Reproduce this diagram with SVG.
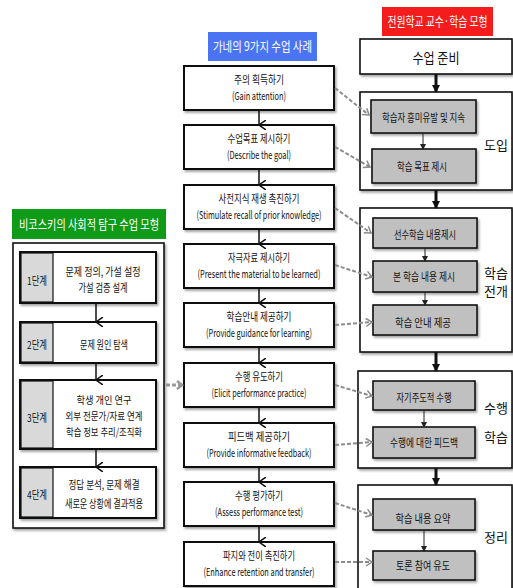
<svg xmlns="http://www.w3.org/2000/svg" width="513" height="588" viewBox="0 0 513 588">
<style>
text{font-family:"Noto Sans CJK KR","Liberation Sans",sans-serif;font-size:11px;fill:#111;text-anchor:middle;}
.t{font-size:13px;fill:#fff;}
.sec{font-size:13px;}
.big{font-size:14px;}
.s3{font-size:10.5px;}
.box{fill:#fff;stroke:#111;stroke-width:2;filter:url(#sh);}
.obox{fill:#fff;stroke:#111;stroke-width:1.6;filter:url(#sh);}
.gbox{fill:#c0c0c0;stroke:#111;stroke-width:1.6;filter:url(#sh);}
.lab{fill:#d9d9d9;stroke:#111;stroke-width:1.2;}
.dash{fill:none;stroke:#8c8c8c;stroke-width:2;stroke-dasharray:4 2;marker-end:url(#oa);}
.ar{fill:none;stroke:#111;stroke-width:1.5;marker-end:url(#va);}
.thick{fill:none;stroke:#111;stroke-width:3;marker-end:url(#fa);}
.thin{fill:none;stroke:#222;stroke-width:1;marker-end:url(#sa);}
</style>
<defs>
<filter id="sh" x="-10%" y="-10%" width="130%" height="140%"><feDropShadow dx="1.5" dy="2" stdDeviation="1" flood-color="#000" flood-opacity="0.35"/></filter>
<marker id="oa" markerWidth="8" markerHeight="10" refX="7" refY="5" orient="auto" markerUnits="userSpaceOnUse"><path d="M1,1 L7,5 L1,9" fill="none" stroke="#8c8c8c" stroke-width="1.5"/></marker>
<marker id="va" markerWidth="10" markerHeight="8" refX="5" refY="7" orient="auto" markerUnits="userSpaceOnUse" viewBox="0 0 10 8"><path d="M0,0 L5,7 L10,0" fill="none" stroke="#111" stroke-width="1.5"/></marker>
<marker id="fa" markerWidth="8" markerHeight="10" refX="7" refY="4" orient="auto" markerUnits="userSpaceOnUse" viewBox="0 0 8 8"><path d="M0,0 L8,4 L0,8 Z" fill="#111"/></marker>
<marker id="sa" markerWidth="6" markerHeight="6" refX="5" refY="3" orient="auto" markerUnits="userSpaceOnUse"><path d="M0,0 L6,3 L0,6 Z" fill="#222"/></marker>
<marker id="ga" markerWidth="8" markerHeight="10" refX="6" refY="5" orient="auto" markerUnits="userSpaceOnUse"><path d="M1,1 L6,5 L1,9" fill="none" stroke="#999" stroke-width="2.5"/></marker>
</defs>

<!-- Titles -->
<g id="title-left"><rect x="12" y="209" width="154" height="30" fill="#0f9a17"/><text class="t" x="89" y="229" textLength="140" lengthAdjust="spacingAndGlyphs">비코스키의 사회적 탐구 수업 모형</text></g>
<g id="title-mid"><rect x="208" y="32" width="109" height="29" fill="#4a74f2"/><text class="t" x="262.5" y="51" textLength="99" lengthAdjust="spacingAndGlyphs">가네의 9가지 수업 사례</text></g>
<g id="title-right"><rect x="382" y="7" width="111" height="29" fill="#f41c1c"/><text class="t" x="437.5" y="26" textLength="100" lengthAdjust="spacingAndGlyphs">전원학교 교수·학습 모형</text></g>

<!-- Left model -->
<g id="left-model">
<rect x="13" y="243" width="151" height="285" fill="#fff" stroke="#111" stroke-width="1.6" filter="url(#sh)"/>
</g>
<g id="stage1"><rect class="box" x="20" y="252" width="136" height="51"/><rect class="lab" x="21" y="253" width="32" height="49"/><text x="37" y="285" textLength="20" lengthAdjust="spacingAndGlyphs">1단계</text><text x="103" y="276" textLength="75" lengthAdjust="spacingAndGlyphs">문제 정의, 가설 설정</text><text x="103" y="292" textLength="49" lengthAdjust="spacingAndGlyphs">가설 검증 설계</text></g>
<g id="stage2"><rect class="box" x="20" y="322" width="136" height="41"/><rect class="lab" x="21" y="323" width="32" height="39"/><text x="37" y="349" textLength="20" lengthAdjust="spacingAndGlyphs">2단계</text><text x="104" y="349" textLength="48" lengthAdjust="spacingAndGlyphs">문제 원인 탐색</text></g>
<g id="stage3"><rect class="box" x="20" y="380" width="136" height="69"/><rect class="lab" x="21" y="381" width="32" height="67"/><text x="37" y="422" textLength="20" lengthAdjust="spacingAndGlyphs">3단계</text><text class="s3" x="104" y="404" textLength="55" lengthAdjust="spacingAndGlyphs">학생 개인 연구</text><text class="s3" x="104" y="420" textLength="77" lengthAdjust="spacingAndGlyphs">외부 전문가/자료 연계</text><text class="s3" x="104" y="436" textLength="76" lengthAdjust="spacingAndGlyphs">학습 정보 추리/조직화</text></g>
<g id="stage4"><rect class="box" x="20" y="467" width="136" height="51"/><rect class="lab" x="21" y="468" width="32" height="49"/><text x="37" y="499" textLength="20" lengthAdjust="spacingAndGlyphs">4단계</text><text x="104" y="489" textLength="71" lengthAdjust="spacingAndGlyphs">정답 분석, 문제 해결</text><text x="104" y="508" textLength="78" lengthAdjust="spacingAndGlyphs">새로운 상황에 결과적용</text></g>

<!-- Gagne events -->
<g id="g1"><rect class="box" x="184" y="66" width="150" height="44"/><text x="259" y="84" textLength="50" lengthAdjust="spacingAndGlyphs">주의 획득하기</text><text x="259" y="100" textLength="54" lengthAdjust="spacingAndGlyphs">(Gain attention)</text></g>
<g id="g2"><rect class="box" x="184" y="125" width="150" height="44"/><text x="259" y="143" textLength="63" lengthAdjust="spacingAndGlyphs">수업목표 제시하기</text><text x="259" y="159" textLength="64" lengthAdjust="spacingAndGlyphs">(Describe the goal)</text></g>
<g id="g3"><rect class="box" x="184" y="185" width="150" height="44"/><text x="259" y="203" textLength="81" lengthAdjust="spacingAndGlyphs">사전지식 재생 촉진하기</text><text x="259" y="219" textLength="125" lengthAdjust="spacingAndGlyphs">(Stimulate recall of prior knowledge)</text></g>
<g id="g4"><rect class="box" x="184" y="244" width="150" height="44"/><text x="259" y="262" textLength="62" lengthAdjust="spacingAndGlyphs">자극자료 제시하기</text><text x="259" y="278" textLength="123" lengthAdjust="spacingAndGlyphs">(Present the material to be learned)</text></g>
<g id="g5"><rect class="box" x="184" y="303" width="150" height="44"/><text x="259" y="321" textLength="65" lengthAdjust="spacingAndGlyphs">학습안내 제공하기</text><text x="259" y="337" textLength="106" lengthAdjust="spacingAndGlyphs">(Provide guidance for learning)</text></g>
<g id="g6"><rect class="box" x="184" y="363" width="150" height="44"/><text x="259" y="381" textLength="48" lengthAdjust="spacingAndGlyphs">수행 유도하기</text><text x="259" y="397" textLength="95" lengthAdjust="spacingAndGlyphs">(Elicit performance practice)</text></g>
<g id="g7"><rect class="box" x="184" y="423" width="150" height="44"/><text x="259" y="441" textLength="62" lengthAdjust="spacingAndGlyphs">피드백 제공하기</text><text x="259" y="457" textLength="105" lengthAdjust="spacingAndGlyphs">(Provide informative feedback)</text></g>
<g id="g8"><rect class="box" x="184" y="482" width="150" height="44"/><text x="259" y="500" textLength="48" lengthAdjust="spacingAndGlyphs">수행 평가하기</text><text x="259" y="516" textLength="88" lengthAdjust="spacingAndGlyphs">(Assess performance test)</text></g>
<g id="g9"><rect class="box" x="184" y="542" width="150" height="44"/><text x="259" y="560" textLength="72" lengthAdjust="spacingAndGlyphs">파지와 전이 촉진하기</text><text x="259" y="576" textLength="111" lengthAdjust="spacingAndGlyphs">(Enhance retention and transfer)</text></g>

<!-- Right model -->
<g id="prep"><rect class="obox" x="360" y="39" width="152" height="35"/><text class="big" x="436" y="63" textLength="47" lengthAdjust="spacingAndGlyphs">수업 준비</text></g>
<g id="intro"><rect class="obox" x="360" y="92" width="152" height="98"/><text class="sec" x="496" y="150">도입</text></g>
<g id="r1"><rect class="gbox" x="371" y="100" width="105" height="33"/><text x="423.5" y="122" textLength="83" lengthAdjust="spacingAndGlyphs">학습자 흥미유발 및 지속</text></g>
<g id="r2"><rect class="gbox" x="372" y="149" width="104" height="34"/><text x="422" y="171" textLength="50" lengthAdjust="spacingAndGlyphs">학습 목표 제시</text></g>
<g id="develop"><rect class="obox" x="360" y="208" width="152" height="144"/><text class="sec" x="496" y="278">학습</text><text class="sec" x="496" y="296">전개</text></g>
<g id="r3"><rect class="gbox" x="373" y="218" width="104" height="30"/><text x="425" y="239" textLength="62" lengthAdjust="spacingAndGlyphs">선수학습 내용제시</text></g>
<g id="r4"><rect class="gbox" x="373" y="261" width="104" height="31"/><text x="424" y="281" textLength="62" lengthAdjust="spacingAndGlyphs">본 학습 내용 제시</text></g>
<g id="r5"><rect class="gbox" x="373" y="305" width="104" height="30"/><text x="423" y="327" textLength="56" lengthAdjust="spacingAndGlyphs">학습 안내 제공</text></g>
<g id="practice"><rect class="obox" x="358" y="371" width="154" height="97"/><text class="sec" x="496" y="413">수행</text><text class="sec" x="496" y="442">학습</text></g>
<g id="r6"><rect class="gbox" x="373" y="381" width="102" height="29"/><text x="424" y="402" textLength="55" lengthAdjust="spacingAndGlyphs">자기주도적 수행</text></g>
<g id="r7"><rect class="gbox" x="373" y="427" width="102" height="31"/><text x="424" y="447" textLength="68" lengthAdjust="spacingAndGlyphs">수행에 대한 피드백</text></g>
<g id="wrap"><rect class="obox" x="358" y="485" width="154" height="110"/><text class="sec" x="496" y="542">정리</text></g>
<g id="r8"><rect class="gbox" x="373" y="499" width="102" height="31"/><text x="423" y="523" textLength="55" lengthAdjust="spacingAndGlyphs">학습 내용 요약</text></g>
<g id="r9"><rect class="gbox" x="373" y="551" width="102" height="29"/><text x="423" y="570" textLength="54" lengthAdjust="spacingAndGlyphs">토론 참여 유도</text></g>

<!-- Connectors -->
<g id="connectors">
<path class="ar" d="M96,303 V322"/>
<path class="ar" d="M96,363 V380"/>
<path class="ar" d="M96,449 V467"/>
<path d="M166,385 H182" fill="none" stroke="#999" stroke-width="3" stroke-dasharray="4 2" marker-end="url(#ga)"/>
<path class="ar" d="M259,110 V125"/>
<path class="ar" d="M259,169 V185"/>
<path class="ar" d="M259,229 V244"/>
<path class="ar" d="M259,288 V303"/>
<path class="ar" d="M259,347 V363"/>
<path class="ar" d="M259,407 V423"/>
<path class="ar" d="M259,467 V482"/>
<path class="ar" d="M259,526 V542"/>
<path class="thick" d="M436,74 V92"/>
<path class="thick" d="M436,190 V208"/>
<path class="thick" d="M436,352 V371"/>
<path class="thick" d="M436,468 V485"/>
<path class="thin" d="M423,133 V149"/>
<path class="thin" d="M425,248 V261"/>
<path class="thin" d="M425,292 V305"/>
<path class="thin" d="M424,410 V427"/>
<path class="thin" d="M424,530 V551"/>
<path class="dash" d="M335,88 L369,115"/>
<path class="dash" d="M335,147 L370,167"/>
<path class="dash" d="M335,208 L371,233"/>
<path class="dash" d="M335,265 L372,277"/>
<path class="dash" d="M335,325 L372,322"/>
<path class="dash" d="M335,385 L372,396"/>
<path class="dash" d="M335,445 L372,442"/>
<path class="dash" d="M335,503 L372,515"/>
<path class="dash" d="M335,562 L372,562"/>
</g>
</svg>
